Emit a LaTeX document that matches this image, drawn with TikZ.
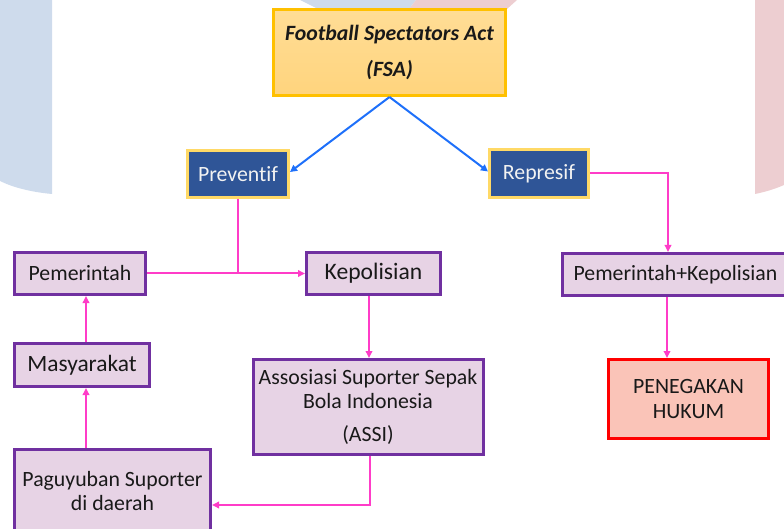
\documentclass[tikz,border=0pt]{standalone}
\usepackage{fontspec}
\setmainfont{Carlito}[Ligatures=NoCommon]
\usetikzlibrary{arrows.meta,calc}
\definecolor{wmblue}{RGB}{206,219,236}
\definecolor{wmpink}{RGB}{237,206,209}
\definecolor{fsaborder}{RGB}{255,192,0}
\definecolor{fsatop}{RGB}{255,221,150}
\definecolor{fsabot}{RGB}{255,212,125}
\definecolor{navyfill}{RGB}{47,85,151}
\definecolor{goldborder}{RGB}{255,217,102}
\definecolor{lavfill}{RGB}{231,211,229}
\definecolor{purpborder}{RGB}{112,48,160}
\definecolor{salmonfill}{RGB}{250,196,184}
\definecolor{redborder}{RGB}{255,0,0}
\definecolor{bluearrow}{RGB}{30,112,250}
\definecolor{pinkline}{RGB}{255,60,200}
\definecolor{textblack}{RGB}{25,25,25}
\tikzset{
  basebox/.style={rectangle, inner sep=0pt, align=center, line width=3bp, text=textblack,
    font=\fontsize{21.8bp}{24bp}\selectfont},
  fsabox/.style={basebox, draw=fsaborder, top color=fsatop, bottom color=fsabot,
    font=\fontsize{21.8bp}{36bp}\selectfont\bfseries\itshape},
  navybox/.style={basebox, draw=goldborder, fill=navyfill, text={rgb,255:red,242;green,242;blue,242}},
  lavbox/.style={basebox, draw=purpborder, fill=lavfill},
  redbox/.style={basebox, draw=redborder, fill=salmonfill, font=\fontsize{21.8bp}{25bp}\selectfont},
  bluearr/.style={draw=bluearrow, line width=2bp, -{Triangle[length=7bp,width=7bp]}},
  pinkarr/.style={draw=pinkline, line width=2bp, -{Triangle[length=7bp,width=6.5bp]}},
  pinkln/.style={draw=pinkline, line width=2bp},
}
\begin{document}
\begin{tikzpicture}[x=1bp,y=-1bp]
\useasboundingbox (0,0) rectangle (784,529);
\clip (0,0) rectangle (784,529);
% watermark background
\fill[wmblue] (0,0) -- (52,0) -- (52,194) .. controls (30,192) and (12,187) .. (0,181) -- cycle;
\fill[wmpink] (755,0) -- (784,0) -- (784,185) .. controls (775,189) and (765,192) .. (755,194) -- cycle;
\fill[wmblue] (300,0) -- (416,0) -- (409,9) -- (318,9) -- cycle;
\fill[wmpink] (416,0) -- (517,0) -- (507,9) -- (409,9) -- cycle;
% nodes
\node[fsabox, minimum width=232bp, minimum height=86bp] (fsa) at (389.5,52.5) {Football Spectators Act\\(FSA)};
\node[navybox, minimum width=101bp, minimum height=47bp] (prev) at (238,174) {Preventif};
\node[navybox, minimum width=99bp, minimum height=48bp] (rep) at (539,173.5) {Represif};
\node[lavbox, minimum width=131bp, minimum height=42bp] (pem) at (80,273.5) {Pemerintah};
\node[lavbox, minimum width=134bp, minimum height=42bp, font=\fontsize{23.6bp}{26bp}\selectfont] (kep) at (373.5,273.5) {Kepolisian};
\node[lavbox, minimum width=135bp, minimum height=43bp, font=\fontsize{23.4bp}{26bp}\selectfont] (mas) at (82,365) {Masyarakat};
\node[lavbox, minimum width=230bp, minimum height=95bp] (assi) at (368,407) {Assosiasi Suporter Sepak\\Bola Indonesia\\[9bp](ASSI)};
\node[lavbox, minimum width=196bp, minimum height=84bp] (pag) at (112.5,491.5) {Paguyuban Suporter\\di daerah};
\node[lavbox, minimum width=226bp, minimum height=42bp] (pk) at (675.5,274.5) {Pemerintah+Kepolisian};
\node[redbox, minimum width=160bp, minimum height=79bp] (pen) at (688.5,399) {PENEGAKAN\\HUKUM};
% connectors
\draw[bluearr] (fsa.south) -- ([yshift=2bp]prev.east);
\draw[bluearr] (fsa.south) -- ([yshift=2bp]rep.west);
\draw[pinkln] (prev.south) -- (prev.south |- pem.east);
\draw[pinkarr] (pem.east) -- (kep.west);
\draw[pinkarr] ([xshift=-4.5bp]kep.south) -- ([xshift=-4.5bp]kep.south |- assi.north);
\draw[pinkarr] ([xshift=2bp]assi.south) |- ([yshift=-13.5bp]pag.east);
\draw[pinkarr] ([xshift=-26.5bp]pag.north) -- ([xshift=-26.5bp]pag.north |- mas.south);
\draw[pinkarr] ([xshift=4bp]mas.north) -- ([xshift=4bp]mas.north |- pem.south);
\draw[pinkarr] (rep.east) -| ([xshift=-7.5bp]pk.north);
\draw[pinkarr] ([xshift=-8.5bp]pk.south) -- ([xshift=-8.5bp]pk.south |- pen.north);
\end{tikzpicture}
\end{document}
